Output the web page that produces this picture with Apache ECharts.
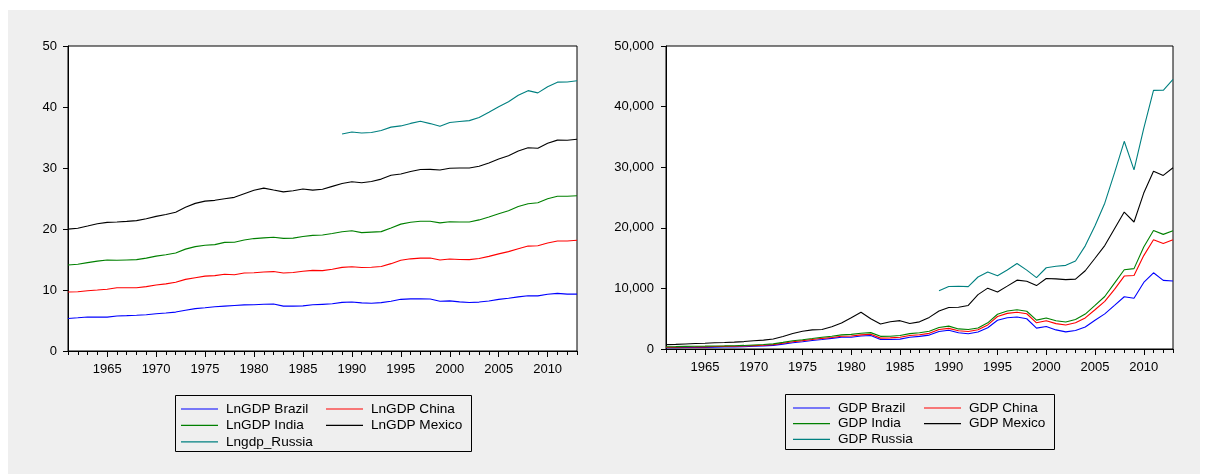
<!DOCTYPE html>
<html>
<head>
<meta charset="utf-8">
<title>GDP per capita and log GDP per capita, BRICS-style comparison</title>
<script src="https://cdn.jsdelivr.net/npm/echarts@6/dist/echarts.min.js"></script>
<style>
  html, body { margin: 0; padding: 0; background: #ffffff; }
  #wrap { position: relative; width: 1208px; height: 474px; overflow: hidden; }
  #panel { position: absolute; left: 8px; top: 10px; width: 1192px; height: 464px; background: #efefef; }
  #chart { position: absolute; left: 0; top: 0; width: 1208px; height: 474px; }
</style>
</head>
<body>
<div id="wrap">
  <div id="panel"></div>
  <div id="chart"></div>
</div>
<script>
// Years on the horizontal axis
const years = [
  1961, 1962, 1963, 1964, 1965, 1966, 1967, 1968, 1969, 1970,
  1971, 1972, 1973, 1974, 1975, 1976, 1977, 1978, 1979, 1980,
  1981, 1982, 1983, 1984, 1985, 1986, 1987, 1988, 1989, 1990,
  1991, 1992, 1993, 1994, 1995, 1996, 1997, 1998, 1999, 2000,
  2001, 2002, 2003, 2004, 2005, 2006, 2007, 2008, 2009, 2010,
  2011, 2012, 2013
];

// GDP per capita (current US$), one value per year
const gdpBrazil = [
  208, 232, 262, 258, 257, 311, 330, 356, 383, 445,
  508, 591, 798, 1030, 1198, 1411, 1576, 1752, 1927, 1947,
  2133, 2226, 1570, 1578, 1636, 1941, 2090, 2297, 2900, 3087,
  2677, 2526, 2792, 3500, 4750, 5166, 5282, 4990, 3450, 3700,
  3150, 2830, 3050, 3640, 4740, 5790, 7200, 8620, 8370, 10980,
  12580, 11320, 11210
];
const gdpChina = [
  76, 71, 74, 85, 98, 104, 97, 91, 100, 113,
  119, 132, 157, 160, 178, 165, 185, 155, 184, 194,
  197, 203, 225, 250, 294, 281, 252, 284, 311, 317,
  333, 366, 377, 473, 610, 709, 782, 829, 873, 954,
  1042, 1135, 1274, 1490, 1731, 2069, 2651, 3414, 3749, 4433,
  5447, 6093, 6807
];
const gdpIndia = [
  85, 90, 101, 116, 119, 90, 96, 99, 107, 112,
  119, 122, 143, 163, 158, 161, 186, 206, 224, 267,
  271, 275, 292, 277, 296, 310, 340, 355, 347, 368,
  303, 317, 301, 346, 374, 400, 415, 413, 442, 452,
  462, 480, 554, 634, 720, 806, 1023, 1042, 1147, 1417,
  1540, 1503, 1499
];
const gdpMexico = [
  355, 370, 400, 455, 485, 525, 555, 595, 635, 680,
  725, 810, 960, 1200, 1400, 1420, 1280, 1560, 1950, 2750,
  3450, 2300, 2030, 2400, 2450, 1680, 1800, 2280, 2700, 3080,
  3570, 3980, 5500, 5720, 3680, 4100, 4880, 4950, 5700, 6520,
  6920, 7000, 6650, 7150, 7780, 8400, 8980, 9520, 7690, 8900,
  9780, 9730, 10390
];
const gdpRussia = [
  null, null, null, null, null, null, null, null, null, null,
  null, null, null, null, null, null, null, null, null, null,
  null, null, null, null, null, null, null, null, 3350, 3460,
  3470, 3110, 2910, 2650, 2670, 2660, 2740, 1830, 1310, 1780,
  2080, 2360, 2990, 4110, 5380, 7000, 9200, 11680, 8600, 10690,
  13330, 14050, 14590
];

// Natural log of GDP per capita
const lnBrazil = [
  5.34, 5.45, 5.57, 5.55, 5.55, 5.74, 5.80, 5.87, 5.95, 6.10,
  6.23, 6.38, 6.68, 6.94, 7.09, 7.25, 7.36, 7.47, 7.56, 7.57,
  7.67, 7.71, 7.36, 7.36, 7.40, 7.57, 7.65, 7.74, 7.97, 8.04,
  7.89, 7.83, 7.93, 8.16, 8.47, 8.55, 8.57, 8.52, 8.15, 8.22,
  8.06, 7.95, 8.02, 8.20, 8.46, 8.66, 8.88, 9.06, 9.03, 9.30,
  9.44, 9.33, 9.32
];
const lnChina = [
  4.33, 4.26, 4.30, 4.44, 4.58, 4.64, 4.57, 4.51, 4.61, 4.73,
  4.78, 4.88, 5.06, 5.08, 5.18, 5.11, 5.22, 5.04, 5.22, 5.27,
  5.28, 5.31, 5.42, 5.52, 5.68, 5.64, 5.53, 5.65, 5.74, 5.76,
  5.81, 5.90, 5.93, 6.16, 6.41, 6.56, 6.66, 6.72, 6.77, 6.86,
  6.95, 7.03, 7.15, 7.31, 7.46, 7.63, 7.88, 8.14, 8.23, 8.40,
  8.60, 8.71, 8.83
];
const lnIndia = [
  4.44, 4.50, 4.62, 4.75, 4.78, 4.50, 4.56, 4.60, 4.67, 4.72,
  4.78, 4.80, 4.96, 5.09, 5.06, 5.08, 5.23, 5.33, 5.41, 5.59,
  5.60, 5.62, 5.68, 5.62, 5.69, 5.74, 5.83, 5.87, 5.85, 5.91,
  5.71, 5.76, 5.71, 5.85, 5.92, 5.99, 6.03, 6.02, 6.09, 6.11,
  6.14, 6.17, 6.32, 6.45, 6.58, 6.69, 6.93, 6.95, 7.04, 7.26,
  7.34, 7.32, 7.31
];
const lnMexico = [
  5.87, 5.91, 5.99, 6.12, 6.18, 6.26, 6.32, 6.39, 6.45, 6.52,
  6.59, 6.70, 6.87, 7.09, 7.24, 7.26, 7.15, 7.35, 7.58, 7.92,
  8.15, 7.74, 7.62, 7.78, 7.80, 7.43, 7.50, 7.73, 7.90, 8.03,
  8.18, 8.29, 8.61, 8.65, 8.21, 8.32, 8.49, 8.51, 8.65, 8.78,
  8.84, 8.85, 8.80, 8.87, 8.96, 9.04, 9.10, 9.16, 8.95, 9.09,
  9.19, 9.18, 9.25
];
const lnRussia = [
  null, null, null, null, null, null, null, null, null, null,
  null, null, null, null, null, null, null, null, null, null,
  null, null, null, null, null, null, null, null, 8.12, 8.15,
  8.15, 8.04, 7.98, 7.88, 7.89, 7.89, 7.92, 7.51, 7.18, 7.48,
  7.64, 7.77, 8.00, 8.32, 8.59, 8.85, 9.13, 9.37, 9.06, 9.28,
  9.50, 9.55, 9.59
];

// Series names and colours
const lnNames = ['LnGDP Brazil', 'LnGDP China', 'LnGDP India', 'LnGDP Mexico', 'Lngdp_Russia'];
const gdpNames = ['GDP Brazil', 'GDP China', 'GDP India', 'GDP Mexico', 'GDP Russia'];
const colors = ['#0000ff', '#ff0000', '#008000', '#000000', '#008080'];

// Value-axis ranges
const lnAxis = { min: 0, max: 50, interval: 10 };
const gdpAxis = { min: 0, max: 50000, interval: 10000 };

const FONT = '"Liberation Sans", Arial, sans-serif';
const textStyle = { fontFamily: FONT, fontSize: 13, color: '#000' };

function yearAxes(gridIndex) {
  const common = {
    type: 'category',
    gridIndex: gridIndex,
    data: years,
    boundaryGap: false,
    position: 'bottom',
    axisLine: { lineStyle: { color: '#000', width: 1 } },
    splitLine: { show: false }
  };
  return [
    Object.assign({}, common, {
      axisTick: { show: true, interval: 0, length: 4, lineStyle: { color: '#000' } },
      axisLabel: { show: false }
    }),
    Object.assign({}, common, {
      axisTick: {
        show: true, length: 6, lineStyle: { color: '#000' },
        interval: (i, v) => Number(v) % 5 === 0
      },
      axisLabel: Object.assign({}, textStyle, {
        margin: 12,
        interval: (i, v) => Number(v) % 5 === 0
      })
    })
  ];
}

function valueAxis(gridIndex, range, fmt, margin) {
  return {
    type: 'value',
    gridIndex: gridIndex,
    min: range.min, max: range.max, interval: range.interval,
    axisLine: { show: true, lineStyle: { color: '#000', width: 1 } },
    axisTick: { show: true, length: 5, lineStyle: { color: '#000' } },
    splitLine: { show: false },
    axisLabel: Object.assign({}, textStyle, { margin: margin, formatter: fmt })
  };
}

function lineSeries(name, data, color, xAxisIndex, yAxisIndex, stack) {
  return {
    type: 'line',
    name: name,
    data: data,
    xAxisIndex: xAxisIndex,
    yAxisIndex: yAxisIndex,
    stack: stack,
    symbol: 'none',
    showSymbol: false,
    connectNulls: false,
    lineStyle: { color: color, width: 1.1 },
    itemStyle: { color: color },
    emphasis: { disabled: true },
    animation: false
  };
}

function legendBlock(names, left, top, gap) {
  return {
    data: names,
    orient: 'vertical',
    left: left,
    top: top,
    icon: 'rect',
    itemWidth: 37,
    itemHeight: 1.2,
    itemGap: gap,
    padding: 0,
    selectedMode: false,
    textStyle: Object.assign({}, textStyle, { fontSize: 13.6, lineHeight: 14, padding: [0, 0, 0, 3] })
  };
}

const lnSets = [lnBrazil, lnChina, lnIndia, lnMexico, lnRussia];
const gdpSets = [gdpBrazil, gdpChina, gdpIndia, gdpMexico, gdpRussia];

const series = [];
lnSets.forEach((d, i) => series.push(lineSeries(lnNames[i], d, colors[i], 0, 0, 'ln')));
gdpSets.forEach((d, i) => series.push(lineSeries(gdpNames[i], d, colors[i], 2, 1, 'gdp')));

const option = {
  animation: false,
  backgroundColor: 'transparent',
  color: colors,
  grid: [
    { left: 68, top: 46, width: 509, height: 305, show: true, backgroundColor: '#ffffff', borderColor: '#000', borderWidth: 1 },
    { left: 666, top: 46, width: 507, height: 303, show: true, backgroundColor: '#ffffff', borderColor: '#000', borderWidth: 1 }
  ],
  xAxis: yearAxes(0).concat(yearAxes(1)),
  yAxis: [
    valueAxis(0, lnAxis, v => String(v), 11),
    valueAxis(1, gdpAxis, v => v.toLocaleString('en-US'), 12)
  ],
  legend: [
    legendBlock([lnNames[0], lnNames[2], lnNames[4]], 181, 402, 2.4),
    legendBlock([lnNames[1], lnNames[3]], 326, 402, 2.4),
    legendBlock([gdpNames[0], gdpNames[2], gdpNames[4]], 793, 401, 1.7),
    legendBlock([gdpNames[1], gdpNames[3]], 924, 401, 1.7)
  ],
  graphic: [
    { type: 'rect', shape: { x: 175.5, y: 395.5, width: 296, height: 56 }, style: { fill: null, stroke: '#000', lineWidth: 1 }, silent: true },
    { type: 'rect', shape: { x: 785.5, y: 394.5, width: 269, height: 55 }, style: { fill: null, stroke: '#000', lineWidth: 1 }, silent: true }
  ],
  series: series
};

const chart = echarts.init(document.getElementById('chart'), null, { renderer: 'canvas' });
chart.setOption(option);
</script>
</body>
</html>
